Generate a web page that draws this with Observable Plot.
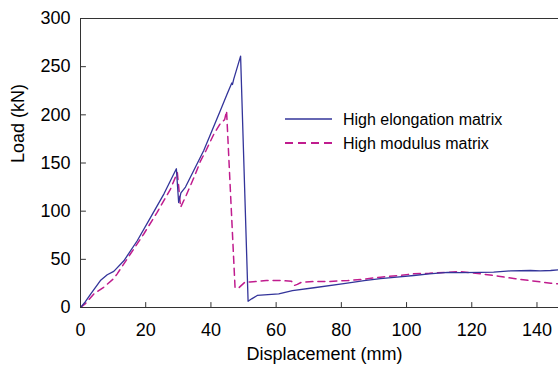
<!DOCTYPE html>
<html>
<head>
<meta charset="utf-8">
<script src="https://cdn.jsdelivr.net/npm/d3@7"></script>
<script src="https://cdn.jsdelivr.net/npm/@observablehq/plot@0.6"></script>
<style>
  html, body { margin: 0; padding: 0; background: #fff; }
  #wrap { position: relative; width: 558px; height: 365px; font-family: "Liberation Sans", Arial, sans-serif; }
  #legend { position: absolute; left: 0; top: 0; pointer-events: none; }
</style>
</head>
<body>
<div id="wrap"></div>
<script>
// Series: High elongation matrix
const dispHE = [0, 1.5, 3.1, 6.1, 8.2, 10.2, 13.3, 17.4, 21.5, 25.6, 29.4, 30.1, 30.8, 32.2, 35, 37.8, 40, 42.9, 45, 46.4, 46.6, 47, 49.1, 51.4, 52.5, 54.2, 60.8, 65, 71.6, 81.3, 87, 92, 97, 102.2, 107, 112.5, 116.6, 122.7, 126.7, 131.9, 138, 141, 144.2, 146.6];
const loadHE = [0, 6, 14, 28, 34, 37.5, 48.5, 69.3, 93.5, 118, 144, 109, 119, 125, 144, 163, 181, 204.5, 222, 233, 231.5, 237, 261, 6.5, 9, 12.5, 14.2, 17.6, 20.5, 25, 28, 30, 31.5, 33.2, 35, 36.5, 36.2, 36.5, 36.7, 38, 38.4, 38, 38.4, 39];
// Series: High modulus matrix
const dispHM = [0, 1.5, 4.1, 7.1, 10.2, 11.2, 15.3, 19.4, 23.5, 27.6, 29.7, 30.1, 30.7, 32.5, 34.8, 36.8, 38.5, 40.9, 42.9, 44.2, 44.8, 47.4, 48.4, 50.5, 52, 57, 61, 64.7, 65.5, 66.5, 67.8, 72, 76, 82, 87, 92, 97, 102.2, 107, 112.5, 116.6, 122.7, 128.2, 133.4, 138.5, 144.2, 146.6];
const loadHM = [0, 4, 14, 21, 30, 34.7, 55.5, 76.3, 98.8, 123, 140, 126, 104, 117, 135, 152, 163, 180, 191, 195, 204, 20.5, 20, 26.5, 26.5, 28, 28, 27.3, 22.8, 24, 26.3, 27, 27, 28, 29.5, 31.5, 33, 35, 35.5, 36.6, 37.2, 35, 32.5, 29.8, 27.7, 25.2, 24.6];

const seriesNames = ["High elongation matrix", "High modulus matrix"];
const xTicks = [0, 20, 40, 60, 80, 100, 120, 140];
const yTicks = [0, 50, 100, 150, 200, 250, 300];
const xLabel = "Displacement (mm)";
const yLabel = "Load (kN)";

const blue = "#33349a";
const magenta = "#c01c8e";

const he = dispHE.map((d, i) => ({x: d, y: loadHE[i]}));
const hm = dispHM.map((d, i) => ({x: d, y: loadHM[i]}));

// inward tick shape for vector marks
const tickShape = {draw(context, l) { context.moveTo(0, 0); context.lineTo(0, -l); }};

const chart = Plot.plot({
  width: 558,
  height: 365,
  marginLeft: 80,
  marginRight: 0,
  marginTop: 18,
  marginBottom: 58,
  style: {fontFamily: "Liberation Sans, Arial, sans-serif", color: "#000", background: "#fff", overflow: "visible"},
  x: {domain: [0, 146.6]},
  y: {domain: [0, 300]},
  marks: [
    Plot.axisX({ticks: xTicks, tickSize: 0, tickPadding: 16, fontSize: 18, label: null, tickFormat: d => d}),
    Plot.axisY({ticks: yTicks, tickSize: 0, tickPadding: 10, fontSize: 18, label: null, tickFormat: d => d}),
    Plot.vector(xTicks, {x: d => d, y: 0, length: 5, rotate: 0, anchor: "start", shape: tickShape, stroke: "#333", strokeWidth: 1}),
    Plot.vector(yTicks, {x: 0, y: d => d, length: 5, rotate: 90, anchor: "start", shape: tickShape, stroke: "#333", strokeWidth: 1}),
    Plot.line(hm, {x: "x", y: "y", stroke: magenta, strokeWidth: 1.5, strokeDasharray: "7,5", clip: true}),
    Plot.line(he, {x: "x", y: "y", stroke: blue, strokeWidth: 1.3, clip: true}),
    Plot.ruleX([0], {stroke: "#333"}),
    Plot.ruleY([0], {stroke: "#333"}),
    Plot.ruleY([300], {stroke: "#333"}),
    Plot.text([xLabel], {frameAnchor: "bottom", dx: 5, dy: 52, fontSize: 18, fill: "#000"}),
    Plot.text([yLabel], {frameAnchor: "left", dx: -62, rotate: -90, fontSize: 18, fill: "#000"})
  ]
});

const wrap = document.getElementById("wrap");
wrap.appendChild(chart);

// Legend overlay
const ns = "http://www.w3.org/2000/svg";
const leg = document.createElementNS(ns, "svg");
leg.setAttribute("id", "legend");
leg.setAttribute("width", 558);
leg.setAttribute("height", 365);
const legendItems = [
  {name: seriesNames[0], color: blue, dash: null, width: 1.6, y: 119},
  {name: seriesNames[1], color: magenta, dash: "8,5", width: 1.8, y: 143}
];
legendItems.forEach(it => {
  const ln = document.createElementNS(ns, "line");
  ln.setAttribute("x1", 285); ln.setAttribute("x2", 332);
  ln.setAttribute("y1", it.y); ln.setAttribute("y2", it.y);
  ln.setAttribute("stroke", it.color);
  ln.setAttribute("stroke-width", it.width);
  if (it.dash) ln.setAttribute("stroke-dasharray", it.dash);
  leg.appendChild(ln);
  const tx = document.createElementNS(ns, "text");
  tx.setAttribute("x", 343);
  tx.setAttribute("y", it.y);
  tx.setAttribute("dy", "0.35em");
  tx.setAttribute("font-size", 16);
  tx.setAttribute("font-family", "Liberation Sans, Arial, sans-serif");
  tx.setAttribute("fill", "#000");
  tx.textContent = it.name;
  leg.appendChild(tx);
});
wrap.appendChild(leg);
</script>
</body>
</html>
